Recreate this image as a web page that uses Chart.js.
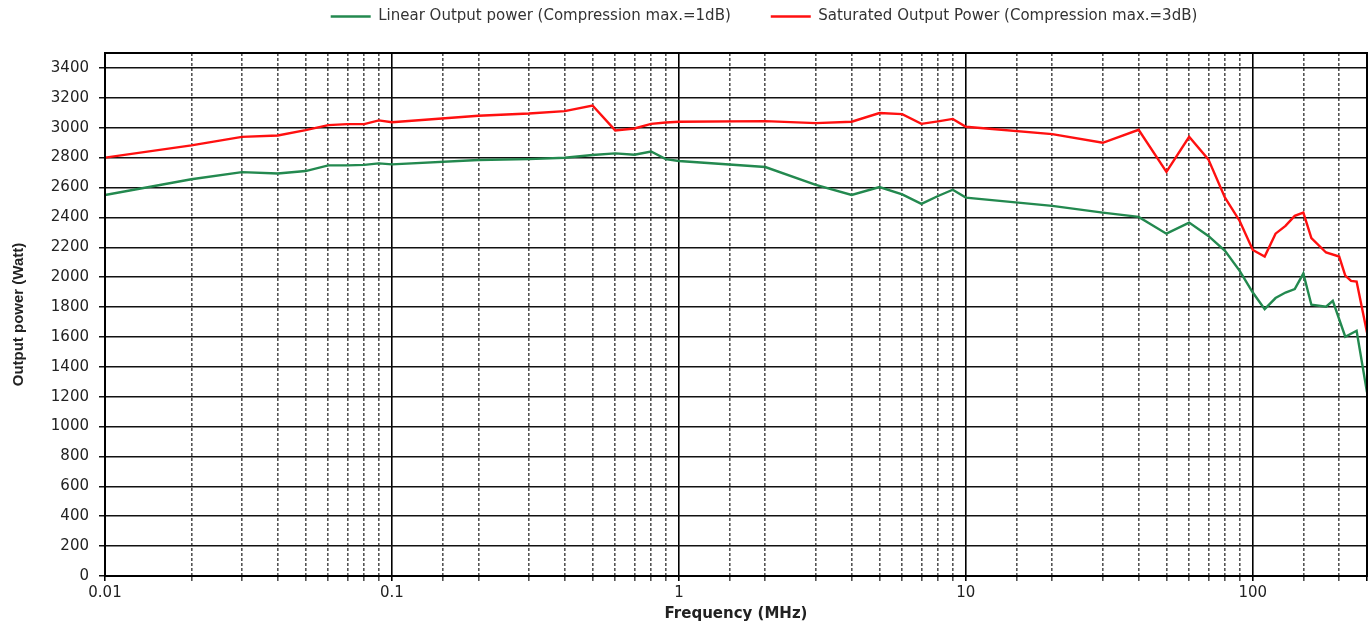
<!DOCTYPE html>
<html>
<head>
<meta charset="utf-8">
<script src="https://cdn.jsdelivr.net/npm/chart.js@4"></script>
<style>
  html, body { margin: 0; padding: 0; background: #fff; }
</style>
</head>
<body>
<canvas id="chart" width="1370" height="626"></canvas>
<script>
// frequencies in MHz, output power in Watt
const freqSaturated = [0.01, 0.02, 0.03, 0.04, 0.05, 0.06, 0.07, 0.08, 0.09,
  0.1, 0.2, 0.3, 0.4, 0.5, 0.6, 0.7, 0.8, 0.9,
  1, 2, 3, 4, 5, 6, 7, 8, 9,
  10, 20, 30, 40, 50, 60, 70, 80, 90,
  100, 110, 120, 130, 140, 150, 160, 180, 200, 210, 220, 230, 250];
const powerSaturated = [2800, 2882, 2939, 2948, 2984, 3017, 3024, 3024, 3049,
  3037, 3080, 3095, 3111, 3149, 2982, 2995, 3026, 3035,
  3040, 3044, 3031, 3040, 3098, 3091, 3026, 3042, 3059,
  3006, 2957, 2899, 2986, 2705, 2939, 2788, 2532, 2376,
  2182, 2138, 2291, 2343, 2410, 2432, 2261, 2165, 2138, 2010, 1975, 1970, 1630];

const freqLinear = [0.01, 0.02, 0.03, 0.04, 0.05, 0.06, 0.07, 0.08, 0.09,
  0.1, 0.2, 0.3, 0.4, 0.5, 0.6, 0.7, 0.8, 0.9,
  1, 2, 3, 4, 5, 6, 7, 8, 9,
  10, 20, 30, 40, 50, 60, 70, 80, 90,
  100, 110, 120, 130, 140, 150, 160, 180, 190, 210, 230, 250];
const powerLinear = [2550, 2655, 2703, 2694, 2710, 2748, 2748, 2751, 2761,
  2755, 2784, 2790, 2799, 2817, 2828, 2819, 2841, 2790,
  2777, 2737, 2617, 2550, 2603, 2554, 2490, 2543, 2585,
  2532, 2477, 2432, 2403, 2291, 2365, 2276, 2176, 2042,
  1897, 1786, 1860, 1897, 1920, 2024, 1815, 1802, 1842, 1601, 1641, 1229];

const labelLinear = 'Linear Output power (Compression max.=1dB)';
const labelSaturated = 'Saturated Output Power (Compression max.=3dB)';
const yMax = 3500;
const yStep = 200;
const yTopTick = 3400;

const toPoints = (xs, ys) => xs.map((x, i) => ({ x, y: ys[i] }));
const isDecade = (v) => {
  const l = Math.log10(v);
  return Math.abs(l - Math.round(l)) < 1e-6;
};
const isMinor = (ctx) => ctx.tick && !isDecade(ctx.tick.value) && ctx.tick.value < 250;

// legend sits higher than the space it reserves, and a bit right of centre
const LEGEND_HEIGHT = 53;
const LEGEND_SHIFT_Y = -31;
const LEGEND_SHIFT_X = 80;
const legendPlacer = {
  id: 'legendPlacer',
  beforeLayout(chart) {
    const legend = chart.legend;
    if (legend && !legend._patched) {
      const fit = legend.fit;
      legend.fit = function () {
        fit.call(this);
        this.height = LEGEND_HEIGHT;
      };
      legend._patched = true;
    }
  },
  afterLayout(chart) {
    const legend = chart.legend;
    legend.top += LEGEND_SHIFT_Y;
    legend.left += LEGEND_SHIFT_X;
    legend.right += LEGEND_SHIFT_X;
  },
};

// frame around the plot area (top and right sides)
const framePlugin = {
  id: 'frame',
  afterDraw(chart) {
    const { ctx, chartArea: a } = chart;
    ctx.save();
    ctx.strokeStyle = '#000';
    ctx.lineWidth = 2;
    ctx.strokeRect(a.left, a.top, a.right - a.left, a.bottom - a.top);
    ctx.restore();
  },
};

const textColor = '#222';

new Chart(document.getElementById('chart'), {
  type: 'line',
  data: {
    datasets: [
      {
        label: labelLinear,
        data: toPoints(freqLinear, powerLinear),
        borderColor: '#23894f',
        backgroundColor: '#23894f',
        borderWidth: 2.4,
        pointRadius: 0,
        tension: 0,
      },
      {
        label: labelSaturated,
        data: toPoints(freqSaturated, powerSaturated),
        borderColor: '#ff1010',
        backgroundColor: '#ff1010',
        borderWidth: 2.4,
        pointRadius: 0,
        tension: 0,
      },
    ],
  },
  options: {
    responsive: false,
    animation: false,
    devicePixelRatio: 1,
    layout: { padding: { top: 0, right: 2, bottom: 0, left: 0 } },
    plugins: {
      tooltip: { enabled: false },
      legend: {
        position: 'top',
        labels: {
          usePointStyle: true,
          pointStyle: 'line',
          pointStyleWidth: 40,
          color: '#333',
          padding: 40,
          font: { family: 'DejaVu Sans', size: 15 },
        },
      },
    },
    scales: {
      x: {
        type: 'logarithmic',
        min: 0.01,
        max: 250,
        afterFit: (scale) => { scale.height = 50; },
        title: {
          display: true,
          text: 'Frequency (MHz)',
          color: textColor,
          font: { family: 'DejaVu Sans', size: 15, weight: 'bold' },
          padding: { top: 0, bottom: 3 },
        },
        ticks: {
          autoSkip: false,
          maxRotation: 0,
          padding: 3,
          color: textColor,
          font: { family: 'DejaVu Sans', size: 15 },
          callback: (v) => (isDecade(v) ? String(Number(v.toPrecision(3))) : ''),
        },
        grid: {
          color: (ctx) => (isMinor(ctx) ? '#555' : '#000'),
          lineWidth: 1.6,
          tickLength: 5,
        },
        border: {
          color: '#000',
          width: 2,
          dash: (ctx) => (isMinor(ctx) ? [3, 2] : []),
        },
      },
      y: {
        min: 0,
        max: yMax,
        afterFit: (scale) => { scale.width = 105; },
        afterBuildTicks: (scale) => {
          const ticks = [];
          for (let v = 0; v <= yTopTick; v += yStep) ticks.push({ value: v });
          scale.ticks = ticks;
        },
        title: {
          display: true,
          text: 'Output power (Watt)',
          color: textColor,
          font: { family: 'Liberation Sans Narrow, Liberation Sans', size: 15, weight: 'bold' },
          padding: { top: 10, bottom: 0 },
        },
        ticks: {
          stepSize: yStep,
          padding: 10,
          color: textColor,
          font: { family: 'DejaVu Sans', size: 15 },
          callback: (v) => String(v),
        },
        grid: {
          color: '#111',
          lineWidth: 1.5,
          tickLength: 6,
        },
        border: { color: '#000', width: 2 },
      },
    },
  },
  plugins: [legendPlacer, framePlugin],
});
</script>
</body>
</html>
